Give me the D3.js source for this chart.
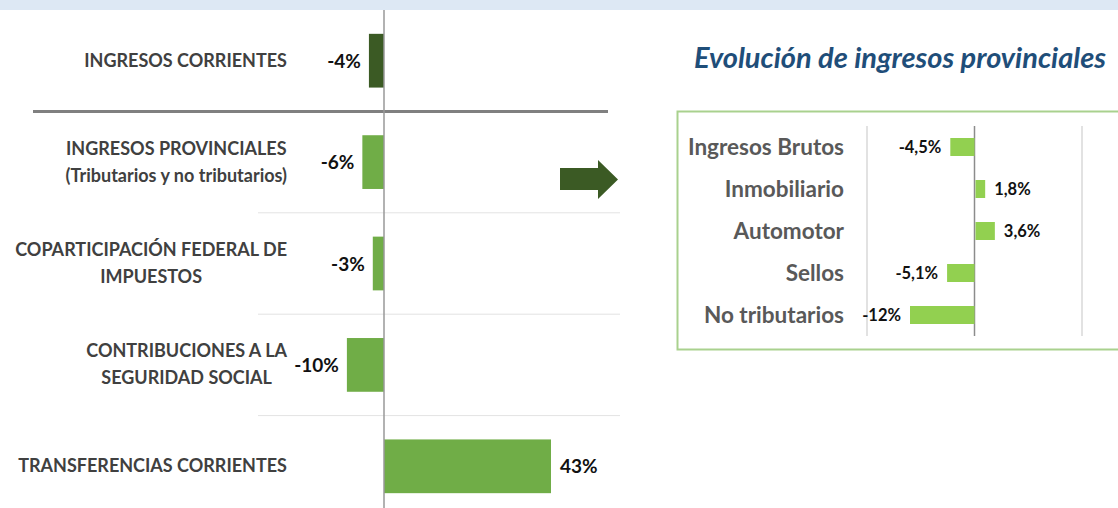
<!DOCTYPE html>
<html>
<head>
<meta charset="utf-8">
<script src="https://cdn.jsdelivr.net/npm/d3@7"></script>
<style>
  body { margin: 0; background: #fff; }
  svg text { font-family: Lato, "Open Sans", sans-serif; }
</style>
</head>
<body>
<div id="chart"></div>
<script>
// main chart data
var categories = [
    ["INGRESOS CORRIENTES"],
    ["INGRESOS PROVINCIALES", "(Tributarios y no tributarios)"],
    ["COPARTICIPACIÓN FEDERAL DE", "IMPUESTOS"],
    ["CONTRIBUCIONES A LA", "SEGURIDAD SOCIAL"],
    ["TRANSFERENCIAS CORRIENTES"]
];
var values = [-3.9, -5.6, -2.9, -9.6, 43.2];
var valueLabels = ["-4%", "-6%", "-3%", "-10%", "43%"];

// provincial income detail
var provCategories = ["Ingresos Brutos", "Inmobiliario", "Automotor", "Sellos", "No tributarios"];
var provValues = [-4.5, 1.8, 3.6, -5.1, -12];
var provLabels = ["-4,5%", "1,8%", "3,6%", "-5,1%", "-12%"];
var provTicks = [-20, 0, 20];

var width = 1118, height = 508;

var svg = d3.select("#chart").append("svg")
    .attr("width", width)
    .attr("height", height);

// top band
svg.append("rect")
    .attr("x", 0).attr("y", 0)
    .attr("width", width).attr("height", 10)
    .attr("fill", "#dde8f4");

// ****************** left chart ***************************
var x = d3.scaleLinear().domain([0, 43.2]).range([384, 551]);
var y = d3.scaleBand()
    .domain(d3.range(categories.length))
    .range([10, 517])
    .paddingInner(0.47)
    .paddingOuter(0.235);
var rows = d3.scaleBand()
    .domain(d3.range(categories.length))
    .range([10, 517]);

// row separators
svg.selectAll("line.sep")
    .data(d3.range(1, categories.length))
    .enter().append("line")
    .attr("class", "sep")
    .attr("x1", function(d) { return d == 1 ? 33 : 258; })
    .attr("x2", function(d) { return d == 1 ? 608 : 620; })
    .attr("y1", function(d) { return rows(d); })
    .attr("y2", function(d) { return rows(d); })
    .attr("stroke", function(d) { return d == 1 ? "#808080" : "#e3e3e3"; })
    .attr("stroke-width", function(d) { return d == 1 ? 3 : 1; });

svg.selectAll("rect.bar")
    .data(values)
    .enter().append("rect")
    .attr("class", "bar")
    .attr("x", function(d) { return x(Math.min(0, d)); })
    .attr("y", function(d, i) { return y(i); })
    .attr("width", function(d) { return Math.abs(x(d) - x(0)); })
    .attr("height", y.bandwidth())
    .attr("fill", function(d, i) { return i == 0 ? "#3b5a24" : "#70ad47"; });

// zero axis
svg.append("line")
    .attr("x1", x(0)).attr("x2", x(0))
    .attr("y1", 10).attr("y2", height)
    .attr("stroke", "#999").attr("stroke-width", 1.5);

// category labels: block right edge at 287, lines centred in the block
var labelRight = 287;
svg.selectAll("text.cat")
    .data(categories)
    .enter().append("text")
    .attr("class", "cat")
    .attr("text-anchor", "middle")
    .attr("font-size", 18)
    .attr("font-weight", "bold")
    .attr("fill", "#404040")
    .each(function(d, i) {
        var t = d3.select(this);
        var cy = rows(i) + rows.bandwidth() / 2;
        var lineH = 27;
        var spans = d.map(function(line, k) {
            return t.append("tspan")
                .attr("y", cy + (k - (d.length - 1) / 2) * lineH + 6)
                .text(line);
        });
        var maxW = d3.max(spans, function(s) { return s.node().getComputedTextLength(); });
        spans.forEach(function(s) { s.attr("x", labelRight - maxW / 2); });
    });

// value labels
svg.selectAll("text.val")
    .data(values)
    .enter().append("text")
    .attr("class", "val")
    .attr("x", function(d) { return d < 0 ? x(d) - 8 : x(d) + 9; })
    .attr("y", function(d, i) { return rows(i) + rows.bandwidth() / 2 + 7; })
    .attr("text-anchor", function(d) { return d < 0 ? "end" : "start"; })
    .attr("font-size", 19)
    .attr("font-weight", "bold")
    .attr("fill", "#111")
    .text(function(d, i) { return valueLabels[i]; });

// arrow
var arrow = d3.path();
arrow.moveTo(560, 168);
arrow.lineTo(598, 168);
arrow.lineTo(598, 160);
arrow.lineTo(618, 179.5);
arrow.lineTo(598, 199);
arrow.lineTo(598, 190);
arrow.lineTo(560, 190);
arrow.closePath();
svg.append("path")
    .attr("d", arrow.toString())
    .attr("fill", "#3b5a24");

// ****************** right chart ***************************
svg.append("text")
    .attr("x", 900)
    .attr("y", 68)
    .attr("text-anchor", "middle")
    .attr("font-size", 29)
    .attr("font-weight", "bold")
    .attr("font-style", "italic")
    .attr("fill", "#1f4e79")
    .text("Evolución de ingresos provinciales");

svg.append("rect")
    .attr("x", 677.5).attr("y", 111.5)
    .attr("width", 460).attr("height", 238)
    .attr("fill", "none")
    .attr("stroke", "#a9d18e")
    .attr("stroke-width", 2);

var px = d3.scaleLinear().domain([-20, 20]).range([867, 1082]);
var prow = d3.scaleBand()
    .domain(d3.range(provCategories.length))
    .range([126, 336]);

svg.selectAll("line.pgrid")
    .data(provTicks)
    .enter().append("line")
    .attr("class", "pgrid")
    .attr("x1", function(d) { return px(d); })
    .attr("x2", function(d) { return px(d); })
    .attr("y1", 126).attr("y2", 336)
    .attr("stroke", function(d) { return d == 0 ? "#8c8c8c" : "#d9d9d9"; })
    .attr("stroke-width", 1.5);

svg.selectAll("rect.pbar")
    .data(provValues)
    .enter().append("rect")
    .attr("class", "pbar")
    .attr("x", function(d) { return px(Math.min(0, d)) + (d < 0 ? 0 : 1); })
    .attr("y", function(d, i) { return prow(i) + prow.bandwidth() / 2 - 9; })
    .attr("width", function(d) { return Math.abs(px(d) - px(0)); })
    .attr("height", 18)
    .attr("fill", "#92d050");

svg.selectAll("text.pcat")
    .data(provCategories)
    .enter().append("text")
    .attr("class", "pcat")
    .attr("x", 844)
    .attr("y", function(d, i) { return prow(i) + prow.bandwidth() / 2 + 8; })
    .attr("text-anchor", "end")
    .attr("font-size", 22.5)
    .attr("font-weight", "bold")
    .attr("fill", "#595959")
    .text(function(d) { return d; });

svg.selectAll("text.pval")
    .data(provValues)
    .enter().append("text")
    .attr("class", "pval")
    .attr("x", function(d) { return d < 0 ? px(d) - 9 : px(d) + 10; })
    .attr("y", function(d, i) { return prow(i) + prow.bandwidth() / 2 + 6; })
    .attr("text-anchor", function(d) { return d < 0 ? "end" : "start"; })
    .attr("font-size", 16.5)
    .attr("font-weight", "bold")
    .attr("fill", "#111")
    .text(function(d, i) { return provLabels[i]; });
</script>
</body>
</html>
